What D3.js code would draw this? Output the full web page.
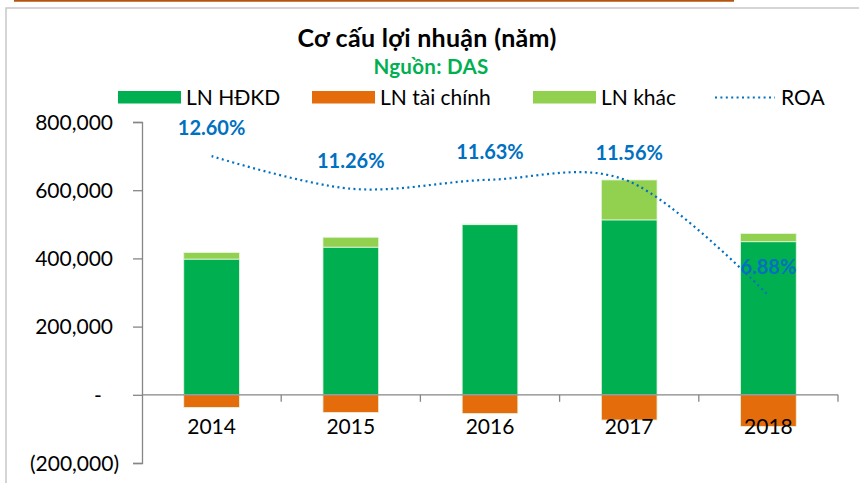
<!DOCTYPE html>
<html>
<head>
<meta charset="utf-8">
<script src="https://cdn.jsdelivr.net/npm/d3@7"></script>
<style>
  body { margin: 0; background: #fff; }
  text { font-family: Lato, "Open Sans", sans-serif; }
</style>
</head>
<body>
<div id="chart"></div>
<script>
// data
var years = ["2014", "2015", "2016", "2017", "2018"];
var lnHdkd = [398000, 433000, 499000, 513000, 449000];
var lnTaiChinh = [-37000, -52000, -55000, -74000, -93000];
var lnKhac = [19000, 29000, 2000, 117000, 24000];
var roa = [0.1260, 0.1126, 0.1163, 0.1156, 0.0688];
var yTicks = [-200000, 0, 200000, 400000, 600000, 800000];

var W = 859, H = 483;
var colGreen = "#00b050", colOrange = "#e46c0a", colLight = "#92d050", colBlue = "#0070c0";

var svg = d3.select("#chart").append("svg")
    .attr("width", W)
    .attr("height", H);

// frame pieces of the original screenshot
svg.append("line")
    .attr("x1", 14).attr("x2", 734).attr("y1", 0.8).attr("y2", 0.8)
    .attr("stroke", "#b5540f").attr("stroke-width", 2);
svg.append("path")
    .attr("d", "M6,483 V8 H859")
    .attr("fill", "none").attr("stroke", "#c8c8c8").attr("stroke-width", 1.5);

// scales
var x = d3.scaleBand().domain(years).range([142, 838]).paddingInner(0.6).paddingOuter(0.3);
var y = d3.scaleLinear().domain([-200000, 800000]).range([463, 122]);
var y2 = d3.scaleLinear().domain([0, 0.14]).range([463, 122]);

// title
svg.append("text")
    .attr("x", 427).attr("y", 47)
    .attr("text-anchor", "middle")
    .style("font-size", "25px").style("font-weight", "bold")
    .style("letter-spacing", "0.3px")
    .text("Cơ cấu lợi nhuận (năm)");
svg.append("text")
    .attr("x", 431).attr("y", 73.5)
    .attr("text-anchor", "middle")
    .style("font-size", "20.5px").style("font-weight", "bold")
    .style("letter-spacing", "0.3px")
    .attr("fill", colGreen)
    .text("Nguồn: DAS");

// legend
var legend = [
  { name: "LN HĐKD", color: colGreen, x: 118 },
  { name: "LN tài chính", color: colOrange, x: 312 },
  { name: "LN khác", color: colLight, x: 533 }
];
legend.forEach(function(d) {
  svg.append("rect")
      .attr("x", d.x).attr("y", 91)
      .attr("width", 63).attr("height", 12.5)
      .attr("fill", d.color);
  svg.append("text")
      .attr("x", d.x + 68).attr("y", 104.5)
      .style("font-size", "21px")
      .text(d.name);
});
svg.append("line")
    .attr("x1", 715).attr("x2", 775).attr("y1", 97.5).attr("y2", 97.5)
    .attr("stroke", colBlue).attr("stroke-width", 2.2)
    .attr("stroke-dasharray", "2,3.4");
svg.append("text")
    .attr("x", 781).attr("y", 104.5)
    .style("font-size", "21px")
    .text("ROA");

// y axis
var fmt = d3.format(",");
var yAxis = svg.append("g")
    .attr("transform", "translate(142,0)")
    .call(d3.axisLeft(y).tickValues(yTicks).tickSize(9).tickPadding(29)
      .tickFormat(function(v) {
        if (v === 0) return "-";
        if (v < 0) return "(" + fmt(-v) + ")";
        return fmt(v);
      }));
yAxis.select(".domain").attr("stroke", "#868686").attr("stroke-width", 1.3);
yAxis.selectAll(".tick line").attr("stroke", "#868686").attr("stroke-width", 1.3);
yAxis.selectAll(".tick text")
    .style("font-size", "21px").attr("fill", "#000")
    .attr("dy", "0.35em")
    .attr("x", function(v) { return v < 0 ? -23 : (v === 0 ? -44 : -29); })
    .attr("text-anchor", function(v) { return v === 0 ? "middle" : "end"; });

// bars
var g = svg.append("g");
years.forEach(function(yr, i) {
  var bx = x(yr), bw = x.bandwidth();
  g.append("rect")
      .attr("x", bx).attr("y", y(lnHdkd[i]))
      .attr("width", bw).attr("height", y(0) - y(lnHdkd[i]))
      .attr("fill", colGreen);
  g.append("rect")
      .attr("x", bx).attr("y", y(lnHdkd[i] + lnKhac[i]))
      .attr("width", bw).attr("height", y(lnHdkd[i]) - y(lnHdkd[i] + lnKhac[i]))
      .attr("fill", colLight);
  g.append("rect")
      .attr("x", bx).attr("y", y(0))
      .attr("width", bw).attr("height", y(lnTaiChinh[i]) - y(0))
      .attr("fill", colOrange);
});
g.selectAll("rect")
    .attr("stroke", "#e6f4e0").attr("stroke-width", 0.8);

// x axis at zero
var xAxis = svg.append("g")
    .attr("transform", "translate(0," + y(0) + ")");
xAxis.append("line")
    .attr("x1", 142).attr("x2", 838)
    .attr("stroke", "#868686").attr("stroke-width", 1.3);
var step = x.step();
years.forEach(function(yr, i) {
  var tx = x(yr) + x.bandwidth() / 2 + step / 2;
  xAxis.append("line")
      .attr("x1", tx).attr("x2", tx).attr("y1", 0).attr("y2", 7)
      .attr("stroke", "#868686").attr("stroke-width", 1.3);
  xAxis.append("text")
      .attr("x", x(yr) + x.bandwidth() / 2).attr("y", 39)
      .attr("text-anchor", "middle")
      .style("font-size", "21px")
      .text(yr);
});

// ROA line
var line = d3.line()
    .x(function(d, i) { return x(years[i]) + x.bandwidth() / 2; })
    .y(function(d) { return y2(d); })
    .curve(d3.curveCardinal.tension(0));
svg.append("path")
    .datum(roa)
    .attr("d", line)
    .attr("fill", "none")
    .attr("stroke", colBlue).attr("stroke-width", 2.2)
    .attr("stroke-dasharray", "2,3.4");

svg.selectAll(".roa-label")
    .data(roa)
    .enter().append("text")
    .attr("class", "roa-label")
    .attr("x", function(d, i) { return x(years[i]) + x.bandwidth() / 2; })
    .attr("y", function(d) { return y2(d) - 21; })
    .attr("text-anchor", "middle")
    .style("font-size", "20px").style("font-weight", "bold")
    .attr("fill", colBlue)
    .text(function(d) { return (d * 100).toFixed(2) + "%"; });
</script>
</body>
</html>
